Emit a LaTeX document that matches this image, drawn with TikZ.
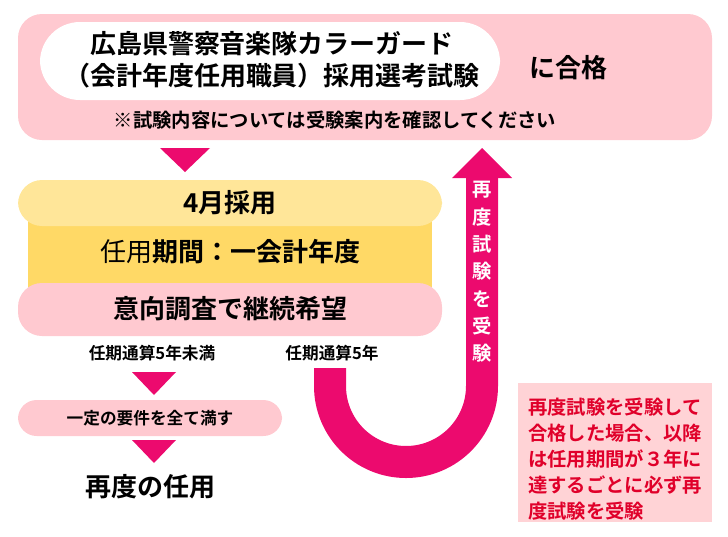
\documentclass[tikz,border=0pt]{standalone}
\usepackage{fontspec}
\setmainfont{Noto Sans CJK JP}[BoldFont={* Bold}]
\usetikzlibrary{positioning}
\definecolor{pinkbg}{HTML}{FFC9D0}
\definecolor{magenta}{HTML}{EC0A6E}
\definecolor{yellowlt}{HTML}{FFE699}
\definecolor{yellowdk}{HTML}{FFD966}
\definecolor{notered}{HTML}{E0002A}
\definecolor{notebg}{HTML}{FFD3D6}
\tikzset{
  pinkbox/.style={fill=pinkbg,draw=none,rounded corners=18pt},
  lbl/.style={font=\bfseries\fontsize{12.5}{15}\selectfont},
  mid/.style={font=\bfseries\fontsize{14.5}{17.5}\selectfont},
  big/.style={font=\bfseries\fontsize{19.5}{24}\selectfont},
  down/.style={fill=magenta,draw=none}
}
\begin{document}
\begin{tikzpicture}[x=0.75pt,y=-0.75pt]
		\useasboundingbox (0,0) rectangle (728,536);
		% top box
		\fill[pinkbox] (18,14) rectangle (712,140);
		\fill[white,rounded corners=30pt] (40,22) rectangle (500,100);
		\node[big,align=center] (exam) at (272,60) {広島県警察音楽隊カラーガード\\（会計年度任用職員）採用選考試験};
		\node[big] (pass) at (568,68) {に合格};
		\node[mid] (memo) at (335,120) {※試験内容については受験案内を確認してください};
		\fill[down] (160,148) -- (210,148) -- (185,172) -- cycle;

		% hiring
		\fill[yellowdk] (28,215) rectangle (432,295);
		\fill[yellowlt,rounded corners=18pt] (18,180) rectangle (442,226);
		\node[big] (hire) at (230,203) {4月採用};
		\node[big] (term) at (230,252) {{\mdseries 任用}期間：一会計年度};
		\fill[pinkbox] (18,283) rectangle (442,336);
		\node[big] (wish) at (230,309) {意向調査で継続希望};

		% left branch
		\node[lbl] (under) at (152,353) {任期通算5年未満};
		\node[lbl] (five) at (332,353) {任期通算5年};
		\fill[down] (132,372) -- (176,372) -- (154,395) -- cycle;
		\fill[pinkbg,rounded corners=14pt] (18,400) rectangle (282,436);
		\node[lbl] (req) at (150,418) {一定の要件を全て満す};
		\fill[down] (132,440) -- (176,440) -- (154,463) -- cycle;
		\node[big] (rehire) at (150,487) {再度の任用};

		% U arrow
		\draw[magenta,line width=24pt] (330,368) -- (330,386) arc (180:0:76) -- (482,176);
		\fill[magenta] (452,178) -- (512,178) -- (482,148) -- cycle;
		\node[mid,white,align=center,inner sep=0pt,font=\bfseries\fontsize{14.5}{20.5}\selectfont] (retest) at (482,272) {再\\度\\試\\験\\を\\受\\験};

		% note
		\fill[notebg] (518,383) rectangle (712,522);
		\node[mid,notered,align=left,anchor=north west,inner sep=0pt,font=\bfseries\fontsize{14.5}{19.5}\selectfont] (note) at (528,398)
		  {再度試験を受験して\\合格した場合、以降\\は任用期間が３年に\\達するごとに必ず再\\度試験を受験};
	\end{tikzpicture}
\end{document}
